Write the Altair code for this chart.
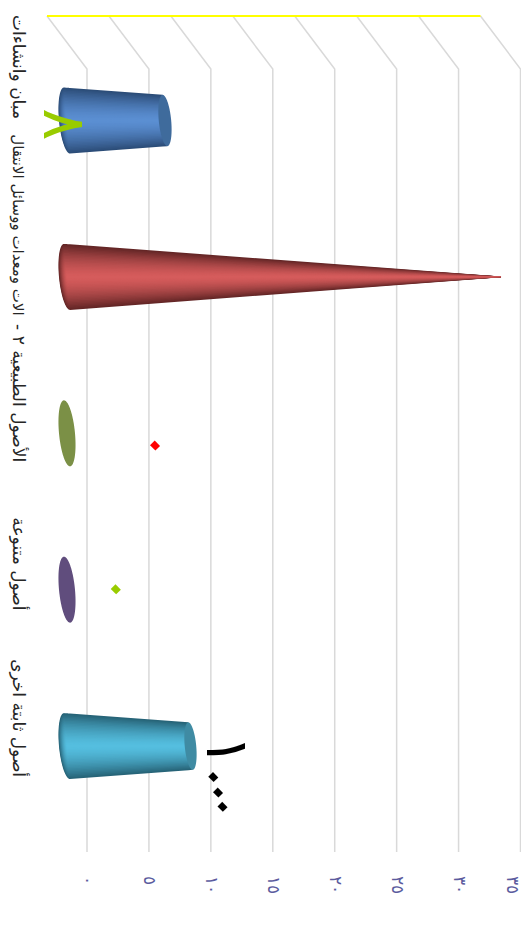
import numpy as np
import altair as alt

# ---------- values ----------
CONE_VALUES = [7.91, 35.04, 0.0, 0.0, 9.97]
CONE_CENTER = ["#5b8fd3", "#d65c5c", "#7b9046", "#604d7d", "#55bfe0"]
CONE_EDGE = ["#2c4d78", "#642626", "#7b9046", "#604d7d", "#276478"]
CONE_CAP = ["#3f6b9c", "#a04a4a", "#7b9046", "#604d7d", "#3f8ba3"]

TICK_VALUES = [0, 5, 10, 15, 20, 25, 30, 35]
TICK_LABELS = ["٠", "٥", "١٠", "١٥", "٢٠", "٢٥", "٣٠", "٣٥"]
TICK_LABEL_X = [0, 5, 10, 15, 20, 25, 30, 34.3]

CAT_LABELS = ["مبان وانشاءات", "الات ومعدات ووسائل الانتقال", "- الأصول الطبيعية ٢",
              "أصول متنوعة", "أصول ثابتة اخرى"]
CAT_LABEL_POS = [-0.342, 0.668, 1.743, 2.835, 3.821]
CAT_LABEL_SIZE = [17, 15, 17, 17, 17]

DATA_LABELS = ["٨", "٠", "٠", "١", "٠", "٠", "٠"]
DATA_LABEL_X = [-2.02, 5.59, 2.42, 11.13, 10.28, 10.66, 11.03]
DATA_LABEL_Y = [0.025, 2.085, 3.005, 4.03, 4.205, 4.305, 4.395]
DATA_LABEL_COLOR = ["#99cc00", "#ff0000", "#99cc00", "#000000", "#000000", "#000000", "#000000"]

# ---------- layout constants, in scale units ----------
W, H = 513, 919
PX_X, PX_Y = 12.386, 156.4
X_DOMAIN = [-6.378, -6.378 + W / PX_X]
Y_DOMAIN = [-0.7193, -0.7193 + H / PX_Y]
WALL_TOP, WALL_BOTTOM, FLOOR_Y, SHIFT = -0.329, 4.677, -0.668, -3.23
BAR_SHIFT = -1.615
TIP = 35.5
HALF_H, SEMI_X, TILT = 0.211, 0.646, 0.242
NBANDS = 22

x_enc = alt.X("x:Q", scale=alt.Scale(domain=X_DOMAIN, nice=False, zero=False), axis=None)
y_enc = alt.Y("y:Q", scale=alt.Scale(domain=Y_DOMAIN[::-1], nice=False, zero=False), axis=None)


def arcs(cx, cy, a, b, d, n=28):
    ts = np.pi + np.arctan2(d, a)
    t_up = np.linspace(ts, 1.5 * np.pi, n)
    t_lo = np.linspace(ts, 0.5 * np.pi, n)
    f = lambda t: (cx + a * np.cos(t) + d * np.sin(t), cy + b * np.sin(t))
    return f(t_up), f(t_lo)


def envelope(x_up, y_up, x_lo, y_lo):
    xs = np.unique(np.concatenate([x_up, x_lo]))
    return xs, np.interp(xs, x_up, y_up), np.interp(xs, x_lo, y_lo)


def mix(c1, c2, t):
    a = [int(c1[i:i + 2], 16) for i in (1, 3, 5)]
    b = [int(c2[i:i + 2], 16) for i in (1, 3, 5)]
    return "#%02x%02x%02x" % tuple(int(round(p + (q - p) * t)) for p, q in zip(a, b))


area_rows = []
gid = 0
for i, v in enumerate(CONE_VALUES):
    ratio = max(1 - v / TIP, 0.0)
    if v > 0:
        end_x = v + BAR_SHIFT
        for k in range(NBANDS):
            f = 1 - k / NBANDS
            (xu, yu), (xl, yl) = arcs(BAR_SHIFT, i, SEMI_X * f, HALF_H * f, TILT * f)
            xu2 = np.append(xu, end_x - TILT * f * ratio)
            yu2 = np.append(yu, i - HALF_H * f * ratio)
            xl2 = np.append(xl, end_x + TILT * f * ratio)
            yl2 = np.append(yl, i + HALF_H * f * ratio)
            # close the end along the chord between the two corners, hidden under the cap
            xu2 = np.append(xu2, xl2[-1]); yu2 = np.append(yu2, yl2[-1])
            xs, a, b = envelope(xu2, yu2, xl2, yl2)
            col = mix(CONE_CENTER[i], CONE_EDGE[i], f ** 1.6)
            for px, p1, p2 in zip(xs, a, b):
                area_rows.append(dict(x=float(px), y=float(p1), y2=float(p2), c=col, g=gid))
            gid += 1
    if ratio > 0:
        cx, a_, b_, d_ = v + BAR_SHIFT, SEMI_X * ratio, HALF_H * ratio, TILT * ratio
        t_far = np.linspace(1.5 * np.pi, 2 * np.pi + np.arctan2(d_, a_), 28)
        t_far2 = np.linspace(0.5 * np.pi, np.arctan2(d_, a_), 28)
        (xu, yu), (xl, yl) = arcs(cx, i, a_, b_, d_)
        xu = np.r_[xu, cx + a_ * np.cos(t_far) + d_ * np.sin(t_far)]
        yu = np.r_[yu, i + b_ * np.sin(t_far)]
        xl = np.r_[xl, cx + a_ * np.cos(t_far2) + d_ * np.sin(t_far2)]
        yl = np.r_[yl, i + b_ * np.sin(t_far2)]
        xs, a, b = envelope(xu, yu, xl, yl)
        for px, p1, p2 in zip(xs, a, b):
            area_rows.append(dict(x=float(px), y=float(p1), y2=float(p2), c=CONE_CAP[i], g=gid))
        gid += 1

cones = alt.Chart(alt.Data(values=area_rows)).mark_area(orient="vertical", interpolate="linear").encode(
    x=x_enc, y=y_enc, y2=alt.Y2("y2:Q"),
    color=alt.Color("c:N", scale=None, legend=None),
    detail="g:N",
)

grid_rows = []
for t in TICK_VALUES:
    for s, (gx, gy) in enumerate([(t, WALL_BOTTOM), (t, WALL_TOP), (t + SHIFT, FLOOR_Y)]):
        grid_rows.append(dict(x=gx, y=gy, t=t, s=s))
grid = alt.Chart(alt.Data(values=grid_rows)).mark_line(color="#d9d9d9", strokeWidth=1.5).encode(
    x=x_enc, y=y_enc, detail="t:N", order="s:Q"
)

floor = alt.Chart(alt.Data(values=[dict(x=TICK_VALUES[0] + SHIFT, y=FLOOR_Y),
                                   dict(x=TICK_VALUES[-1] + SHIFT, y=FLOOR_Y)])).mark_line(
    color="#ffff00", strokeWidth=1.8).encode(x=x_enc, y=y_enc)

tick_text = alt.Chart(alt.Data(values=[dict(x=t, y=4.83, s=s) for t, s in zip(TICK_LABEL_X, TICK_LABELS)])).mark_text(
    angle=90, fontSize=17, font="DejaVu Sans", color="#5b5b9e", align="left", baseline="middle"
).encode(x=x_enc, y=y_enc, text="s:N")

cat_text = alt.Chart(alt.Data(values=[dict(x=-5.6, y=p, s=s, fs=z) for p, s, z in
                                      zip(CAT_LABEL_POS, CAT_LABELS, CAT_LABEL_SIZE)])).mark_text(
    angle=90, font="DejaVu Sans", color="#262626", align="center", baseline="middle"
).encode(x=x_enc, y=y_enc, text="s:N", size=alt.Size("fs:Q", scale=None, legend=None))

label_rows = [dict(x=a, y=b, s=s, c=c, fs=62 if s == "٠" else 60, ang=135 if s == "٠" else 90)
              for a, b, s, c in zip(DATA_LABEL_X, DATA_LABEL_Y, DATA_LABELS, DATA_LABEL_COLOR)]
data_text = alt.Chart(alt.Data(values=label_rows)).mark_text(
    font="DejaVu Sans", align="center", baseline="middle"
).encode(x=x_enc, y=y_enc, text="s:N", color=alt.Color("c:N", scale=None, legend=None),
         size=alt.Size("fs:Q", scale=None, legend=None), angle=alt.Angle("ang:Q", scale=None))

chart = alt.layer(grid, floor, cones, tick_text, cat_text, data_text).properties(
    width=W, height=H, padding=0, autosize="none", background="white"
).configure_view(stroke=None)

chart.save("out.html", embed_options={"renderer": "svg", "actions": False})
